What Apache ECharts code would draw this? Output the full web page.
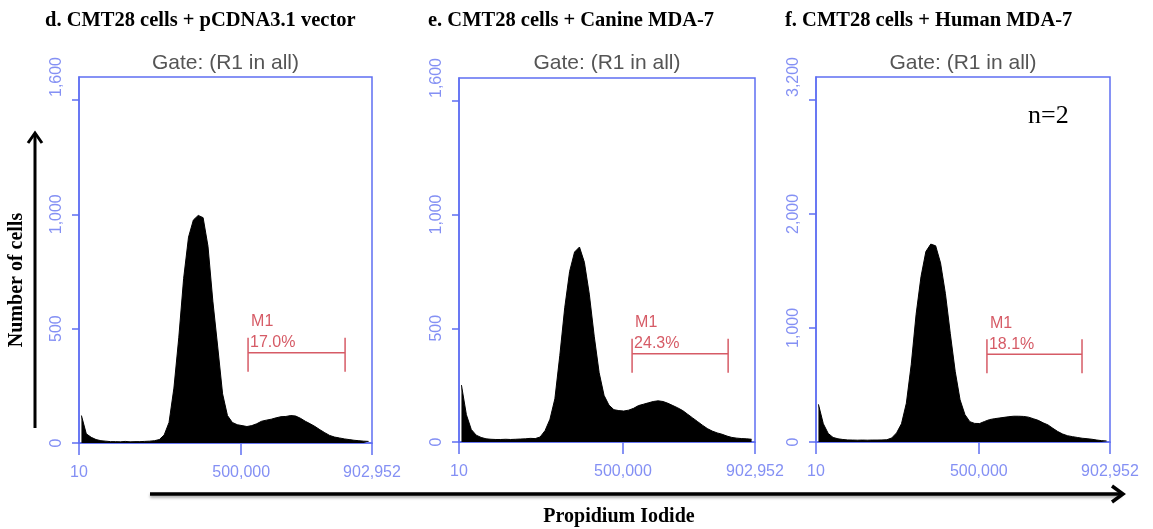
<!DOCTYPE html>
<html>
<head>
<meta charset="utf-8">
<title>CMT28 cell cycle</title>
<script src="https://cdn.jsdelivr.net/npm/echarts@6/dist/echarts.min.js"></script>
<style>
  html, body { margin: 0; padding: 0; background: #fff; }
  #chart { width: 1153px; height: 529px; }
</style>
</head>
<body>
<div id="chart"></div>
<script>
// histogram bins, 15,000 units wide, starting at 0
const binWidth = 15000;
const countsD = [120, 40, 25, 15, 10, 8, 6, 6, 5, 7, 5, 6, 6, 7, 8, 10, 15, 35, 90, 240,
  460, 720, 900, 975, 995, 985, 860, 620, 420, 215, 120, 90, 80, 76, 72, 76, 84, 95, 100, 104,
  110, 115, 116, 120, 118, 108, 95, 84, 72, 58, 45, 33, 26, 22, 18, 15, 12, 10, 8, 7];
const countsE = [250, 120, 55, 30, 20, 14, 12, 11, 11, 12, 11, 12, 13, 14, 16, 15, 22, 50, 100, 190,
  380, 590, 750, 835, 857, 790, 650, 465, 305, 205, 162, 142, 138, 136, 140, 148, 160, 166, 172, 178,
  181, 178, 170, 160, 150, 138, 122, 106, 90, 74, 59, 48, 40, 34, 26, 20, 17, 15, 14, 12];
const countsF = [330, 160, 75, 40, 28, 22, 18, 17, 16, 17, 16, 17, 17, 18, 20, 35, 80, 160, 340, 680,
  1120, 1450, 1670, 1735, 1720, 1570, 1300, 950, 620, 370, 240, 178, 163, 162, 180, 196, 204, 210, 216, 222,
  226, 226, 224, 218, 204, 190, 168, 150, 120, 92, 70, 55, 47, 40, 33, 29, 24, 17, 12, 9];

const panelTitles = ['d. CMT28 cells + pCDNA3.1 vector', 'e. CMT28 cells + Canine MDA-7', 'f. CMT28 cells + Human MDA-7'];
const gateTitle = 'Gate: (R1 in all)';
const xMax = 902952;
const xLabelValues = [10, 500000, 902952];
const yMaxes = [1600, 1600, 3200];
const yTickValues = [[0, 500, 1000, 1500], [0, 500, 1000, 1500], [0, 1000, 2000, 3000]];
const yLabelValues = [[0, 500, 1000, 1600], [0, 500, 1000, 1600], [0, 1000, 2000, 3200]];
// M1 marker: start, end, drawn level, percentage
const m1Start = [521000, 528000, 525000];
const m1End = [820000, 821000, 817000];
const m1Level = [395, 388, 770];
const m1Pct = ['17.0%', '24.3%', '18.1%'];

const grids = [
  { left: 79, top: 77, width: 293, height: 366 },
  { left: 459, top: 78, width: 296, height: 364 },
  { left: 816, top: 77, width: 294, height: 365 }
];
const titleLeft = [45, 428, 785];

const blue = '#5f6ff2';
const labelBlue = '#8490f4';
const red = '#d65b66';
const serif = 'Liberation Serif';
const sans = 'Liberation Sans';

const allCounts = [countsD, countsE, countsF];
const fmt = (v) => v.toLocaleString('en-US');

const option = {
  animation: false,
  title: [],
  grid: [],
  xAxis: [],
  yAxis: [],
  series: [],
  graphic: []
};

grids.forEach((g, i) => {
  option.grid.push({
    left: g.left, top: g.top, width: g.width, height: g.height,
    show: true, borderColor: blue, borderWidth: 1.5, backgroundColor: '#fff'
  });
  option.title.push({
    text: panelTitles[i],
    left: titleLeft[i], top: 10, padding: 0,
    textStyle: { fontFamily: serif, fontWeight: 'bold', fontSize: 20.5, color: '#000' }
  });
  option.title.push({
    text: gateTitle,
    left: g.left + g.width / 2, top: 53, textAlign: 'center', padding: 0,
    textStyle: { fontFamily: sans, fontWeight: 'normal', fontSize: 21, color: '#555' }
  });
  option.xAxis.push({
    type: 'value', gridIndex: i, min: 0, max: xMax,
    axisLine: { show: true, lineStyle: { color: blue, width: 1.5 } },
    axisTick: { show: true, length: 12, customValues: xLabelValues, lineStyle: { color: blue, width: 1.5 } },
    axisLabel: {
      customValues: xLabelValues, formatter: fmt, margin: 22,
      color: labelBlue, fontFamily: sans, fontSize: 16
    },
    splitLine: { show: false }
  });
  option.yAxis.push({
    type: 'value', gridIndex: i, min: 0, max: yMaxes[i],
    axisLine: { show: true, lineStyle: { color: blue, width: 1.5 } },
    axisTick: { show: true, length: 7, customValues: yTickValues[i], lineStyle: { color: blue, width: 1.5 } },
    axisLabel: {
      customValues: yLabelValues[i], formatter: fmt, rotate: 90, margin: 14,
      color: labelBlue, fontFamily: sans, fontSize: 16
    },
    splitLine: { show: false }
  });

  // histogram drawn through bin centres
  const counts = allCounts[i];
  const pts = counts.map((c, k) => [k * binWidth + binWidth / 2, c]);
  option.series.push({
    type: 'line', xAxisIndex: i, yAxisIndex: i,
    symbol: 'none', data: pts,
    lineStyle: { color: '#000', width: 1 },
    areaStyle: { color: '#000', opacity: 1 },
    z: 2
  });

  // M1 marker
  option.series.push({
    type: 'custom', xAxisIndex: i, yAxisIndex: i,
    data: [[m1Start[i], m1End[i], m1Level[i]]],
    z: 3,
    renderItem: (params, api) => {
      const s = api.coord([api.value(0), api.value(2)]);
      const e = api.coord([api.value(1), api.value(2)]);
      const ls = { stroke: red, lineWidth: 1.5 };
      return {
        type: 'group',
        children: [
          { type: 'line', shape: { x1: s[0], y1: s[1], x2: e[0], y2: e[1] }, style: ls },
          { type: 'line', shape: { x1: s[0], y1: s[1] - 15, x2: s[0], y2: s[1] + 19 }, style: ls },
          { type: 'line', shape: { x1: e[0], y1: e[1] - 15, x2: e[0], y2: e[1] + 19 }, style: ls },
          { type: 'text', x: s[0] + 3, y: s[1] - 23,
            style: { text: 'M1', fill: red, font: '16px ' + sans, align: 'left', verticalAlign: 'bottom' } },
          { type: 'text', x: s[0] + 2, y: s[1] - 2,
            style: { text: m1Pct[i], fill: red, font: '16px ' + sans, align: 'left', verticalAlign: 'bottom' } }
        ]
      };
    }
  });
});

option.graphic = [
  // y arrow
  { type: 'line', shape: { x1: 35, y1: 428, x2: 35, y2: 134 }, style: { stroke: '#000', lineWidth: 3 } },
  { type: 'polyline', shape: { points: [[28, 143], [35, 133], [42, 143]] }, style: { stroke: '#000', lineWidth: 3, fill: null } },
  {
    type: 'text', x: 17, y: 280, rotation: Math.PI / 2,
    style: { text: 'Number of cells', font: 'bold 20px ' + serif, fill: '#000', align: 'center', verticalAlign: 'middle' }
  },
  // x arrow
  {
    type: 'line', shape: { x1: 150, y1: 494, x2: 1121, y2: 494 },
    style: { stroke: '#000', lineWidth: 3.5, shadowColor: 'rgba(0,0,0,0.35)', shadowBlur: 3, shadowOffsetY: 2 }
  },
  { type: 'polyline', shape: { points: [[1112, 486], [1123, 494], [1112, 502]] }, style: { stroke: '#000', lineWidth: 3.5, fill: null } },
  {
    type: 'text', x: 619, y: 517,
    style: { text: 'Propidium Iodide', font: 'bold 20px ' + serif, fill: '#000', align: 'center', verticalAlign: 'middle' }
  },
  {
    type: 'text', x: 1028, y: 116,
    style: { text: 'n=2', font: '26px ' + serif, fill: '#000', align: 'left', verticalAlign: 'middle' }
  }
];

const chart = echarts.init(document.getElementById('chart'));
chart.setOption(option);
</script>
</body>
</html>
